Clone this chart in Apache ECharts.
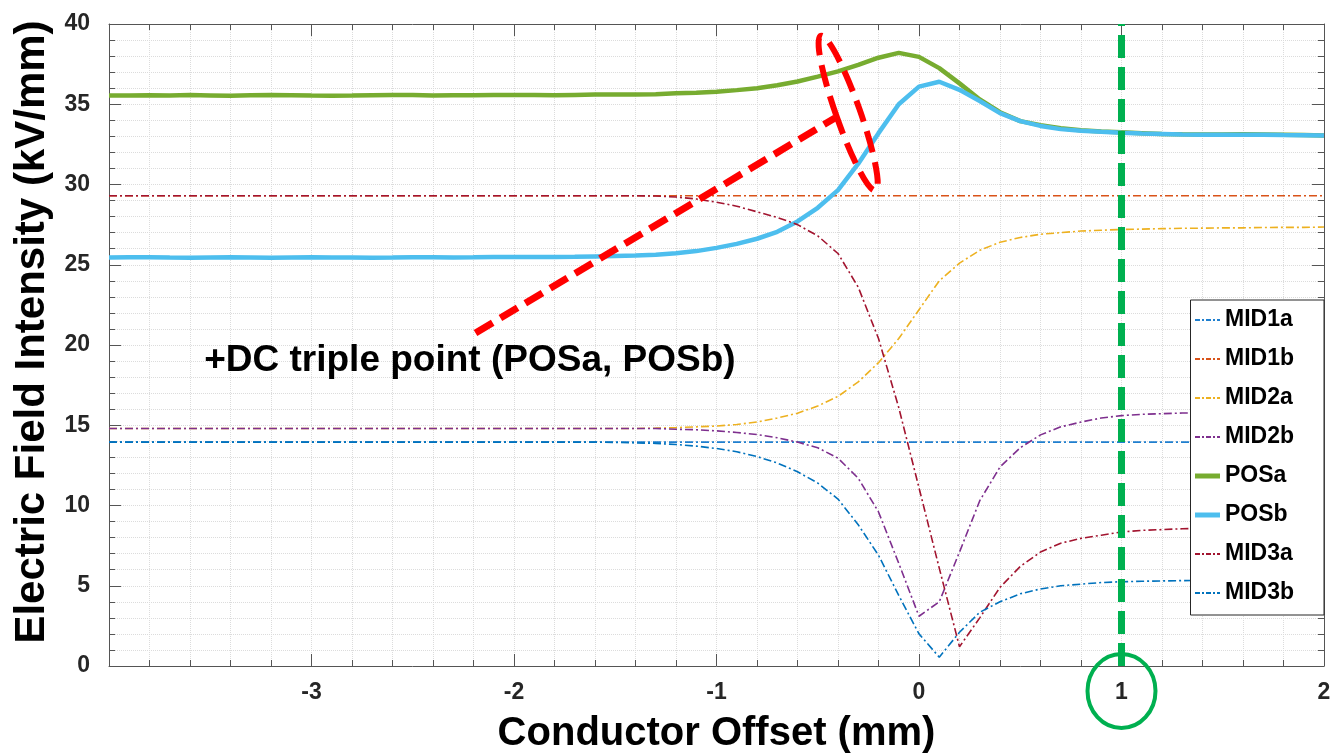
<!DOCTYPE html>
<html><head><meta charset="utf-8">
<script src="https://cdn.jsdelivr.net/npm/echarts@6/dist/echarts.min.js"></script>
<style>html,body{margin:0;padding:0;background:#fff}#c{width:1332px;height:755px}</style>
</head><body><div id="c"></div>
<script>
// ---- data ----
const offsets = [-4.0,-3.9,-3.8,-3.7,-3.6,-3.5,-3.4,-3.3,-3.2,-3.1,
  -3.0,-2.9,-2.8,-2.7,-2.6,-2.5,-2.4,-2.3,-2.2,-2.1,
  -2.0,-1.9,-1.8,-1.7,-1.6,-1.5,-1.4,-1.3,-1.2,-1.1,
  -1.0,-0.9,-0.8,-0.7,-0.6,-0.5,-0.4,-0.3,-0.2,-0.1,
  0.0,0.1,0.2,0.3,0.4,0.5,0.6,0.7,0.8,0.9,
  1.0,1.1,1.2,1.3,1.4,1.5,1.6,1.7,1.8,1.9,
  2.0];
const MID1a = [13.95,13.95,13.95,13.95,13.95,13.95,13.95,13.95,13.95,13.95,
  13.95,13.95,13.95,13.95,13.95,13.95,13.95,13.95,13.95,13.95,
  13.95,13.95,13.95,13.95,13.95,13.95,13.95,13.95,13.95,13.95,
  13.95,13.95,13.95,13.95,13.95,13.95,13.95,13.95,13.95,13.95,
  13.95,13.95,13.95,13.95,13.95,13.95,13.95,13.95,13.95,13.95,
  13.95,13.95,13.95,13.95,13.95,13.95,13.95,13.95,13.95,13.95,
  13.95];
const MID1b = [29.3,29.3,29.3,29.3,29.3,29.3,29.3,29.3,29.3,29.3,
  29.3,29.3,29.3,29.3,29.3,29.3,29.3,29.3,29.3,29.3,
  29.3,29.3,29.3,29.3,29.3,29.3,29.3,29.3,29.3,29.3,
  29.3,29.3,29.3,29.3,29.3,29.3,29.3,29.3,29.3,29.3,
  29.3,29.3,29.3,29.3,29.3,29.3,29.3,29.3,29.3,29.3,
  29.3,29.3,29.3,29.3,29.3,29.3,29.3,29.3,29.3,29.3,
  29.3];
const MID2a = [14.8,14.8,14.8,14.8,14.8,14.8,14.8,14.8,14.8,14.8,
  14.8,14.8,14.8,14.8,14.8,14.8,14.8,14.8,14.8,14.8,
  14.8,14.8,14.8,14.8,14.8,14.8,14.8,14.82,14.85,14.9,
  14.95,15.05,15.2,15.45,15.75,16.2,16.8,17.7,18.9,20.4,
  22.2,24.0,25.1,25.9,26.4,26.7,26.9,27.0,27.1,27.15,
  27.2,27.22,27.25,27.27,27.28,27.3,27.3,27.32,27.33,27.33,
  27.35];
const MID2b = [14.8,14.8,14.8,14.8,14.8,14.8,14.8,14.8,14.8,14.8,
  14.8,14.8,14.8,14.8,14.8,14.8,14.8,14.8,14.8,14.8,
  14.8,14.8,14.8,14.8,14.8,14.8,14.8,14.8,14.75,14.72,
  14.65,14.55,14.42,14.22,13.95,13.6,12.95,11.7,9.6,6.4,
  3.1,4.0,7.1,10.3,12.4,13.6,14.4,14.9,15.2,15.45,
  15.6,15.68,15.72,15.76,15.78,15.8,15.82,15.83,15.84,15.85,
  15.85];
const POSa = [35.55,35.55,35.56,35.55,35.57,35.55,35.53,35.56,35.57,35.56,
  35.54,35.53,35.54,35.56,35.57,35.57,35.54,35.56,35.56,35.57,
  35.58,35.57,35.56,35.58,35.6,35.6,35.61,35.62,35.68,35.72,
  35.78,35.88,36.0,36.18,36.42,36.72,37.05,37.45,37.9,38.2,
  37.95,37.25,36.3,35.3,34.5,33.95,33.7,33.5,33.38,33.3,
  33.25,33.2,33.15,33.13,33.12,33.12,33.13,33.12,33.1,33.08,
  33.05];
const POSb = [25.45,25.46,25.47,25.45,25.44,25.45,25.46,25.45,25.44,25.45,
  25.46,25.45,25.45,25.44,25.45,25.47,25.46,25.45,25.46,25.48,
  25.49,25.48,25.49,25.5,25.52,25.54,25.57,25.62,25.72,25.85,
  26.05,26.3,26.62,27.05,27.7,28.55,29.65,31.3,33.2,35.0,
  36.1,36.4,35.9,35.2,34.45,33.95,33.65,33.45,33.35,33.28,
  33.22,33.18,33.15,33.12,33.1,33.1,33.1,33.1,33.08,33.07,
  33.05];
const MID3a = [29.3,29.3,29.3,29.3,29.3,29.3,29.3,29.3,29.3,29.3,
  29.3,29.3,29.3,29.3,29.3,29.3,29.3,29.3,29.3,29.3,
  29.3,29.3,29.3,29.3,29.3,29.3,29.3,29.28,29.22,29.1,
  28.9,28.65,28.3,27.95,27.5,26.8,25.7,23.6,20.4,16.1,
  11.1,6.1,1.2,3.0,4.9,6.2,7.1,7.65,7.95,8.15,
  8.35,8.45,8.5,8.55,8.58,8.6,8.62,8.63,8.64,8.65,
  8.65];
const MID3b = [13.95,13.95,13.95,13.95,13.95,13.95,13.95,13.95,13.95,13.95,
  13.95,13.95,13.95,13.95,13.95,13.95,13.95,13.95,13.95,13.95,
  13.95,13.95,13.95,13.95,13.95,13.93,13.9,13.87,13.8,13.7,
  13.55,13.35,13.05,12.65,12.1,11.4,10.4,8.8,6.9,4.4,
  2.0,0.55,2.1,3.35,4.0,4.5,4.8,5.0,5.1,5.2,
  5.25,5.28,5.3,5.32,5.33,5.35,5.36,5.37,5.38,5.39,
  5.4];
const xTicks = [-4,-3,-2,-1,0,1,2];
const xTickLabels = ['','-3','-2','-1','0','1','2'];
const yTickLabels = ['0','5','10','15','20','25','30','35','40'];
const seriesNames = ['MID1a','MID1b','MID2a','MID2b','POSa','POSb','MID3a','MID3b'];
const markX = 1;
const noteText = '+DC triple point (POSa, POSb)';
const notePos = [-3.53, 19.0];
const arrowFrom = [-2.19, 20.75];
const arrowTo = [-0.415, 34.14];
const ellipseCenter = [-0.35, 34.45];
const circleCenter = [1, -1.56];

// ---- chart ----
const FONT = '"Liberation Sans", Arial, sans-serif';
const chart = echarts.init(document.getElementById('c'), null, {renderer:'canvas'});
const dashDot = [8,3,2,3];
function pts(arr){ return offsets.map((x,i)=>[x, arr[i]]); }
function mid(name, arr, color){
  return {name, type:'line', data:pts(arr), symbol:'none', showSymbol:false,
    lineStyle:{color, width:1.6, type:dashDot}, itemStyle:{color}, emphasis:{disabled:true}};
}
function solid(name, arr, color){
  return {name, type:'line', data:pts(arr), symbol:'none', showSymbol:false,
    lineStyle:{color, width:4.5}, itemStyle:{color}, emphasis:{disabled:true}};
}
const axisCol = '#555';
const gridLine = {show:true, lineStyle:{color:'#dcdcdc', type:'dotted', width:1}};
const series = [
  mid('MID1a', MID1a, '#1F7FCF'),
  mid('MID1b', MID1b, '#D95319'),
  mid('MID2a', MID2a, '#EDB120'),
  mid('MID2b', MID2b, '#7E2F8E'),
  solid('POSa', POSa, '#77AC30'),
  solid('POSb', POSb, '#4DBEEE'),
  mid('MID3a', MID3a, '#A2142F'),
  mid('MID3b', MID3b, '#0072BD')
];
series[7].markLine = {silent:true, symbol:['none','none'], label:{show:false},
  lineStyle:{color:'#00B050', width:7, type:[23,9]}, data:[{xAxis:markX}]};

const legendData = seriesNames.map(n => (n === 'POSa' || n === 'POSb')
  ? {name:n, lineStyle:{width:5, type:'solid'}}
  : {name:n, lineStyle:{width:1.8, type:[5,2,2,2]}});

chart.setOption({
  animation:false,
  backgroundColor:'#fff',
  grid:{left:109, right:8, top:24, bottom:89, containLabel:false, outerBoundsMode:'none'},
  legend:{data:legendData, orient:'vertical', right:8, top:300,
    itemWidth:25, itemHeight:14, itemGap:15, itemTextGap:3,
    itemStyle:{opacity:0},
    padding:[8,30,10,2], borderColor:'#262626', borderWidth:1, backgroundColor:'#fff',
    textStyle:{fontFamily:FONT, fontSize:23, fontWeight:'bold', color:'#000', lineHeight:24},
    selectedMode:false},
  xAxis:[{type:'value', min:-4, max:2, interval:1, position:'bottom',
    axisLine:{show:true, onZero:false, lineStyle:{color:axisCol}},
    axisTick:{show:true, inside:true, length:12, lineStyle:{color:axisCol}},
    minorTick:{show:true, splitNumber:5, length:6, lineStyle:{color:axisCol}},
    axisLabel:{margin:15, fontFamily:FONT, fontSize:23, fontWeight:'bold', color:'#262626',
      formatter:v=>{const i=xTicks.indexOf(Math.round(v)); return i<0?'':xTickLabels[i];}},
    splitLine:gridLine, minorSplitLine:gridLine,
    name:'Conductor Offset (mm)', nameLocation:'middle', nameGap:48,
    nameTextStyle:{fontFamily:FONT, fontSize:40, fontWeight:'bold', color:'#000'}},
   {type:'value', min:-4, max:2, interval:1, position:'top',
    axisLine:{show:true, onZero:false, lineStyle:{color:axisCol}},
    axisTick:{show:true, inside:true, length:12, lineStyle:{color:axisCol}},
    minorTick:{show:true, splitNumber:5, length:6, lineStyle:{color:axisCol}},
    axisLabel:{show:false}, splitLine:{show:false}}],
  yAxis:[{type:'value', min:0, max:40, interval:5, position:'left',
    axisLine:{show:true, onZero:false, lineStyle:{color:axisCol}},
    axisTick:{show:true, inside:true, length:12, lineStyle:{color:axisCol}},
    minorTick:{show:true, splitNumber:5, length:6, lineStyle:{color:axisCol}},
    axisLabel:{margin:19, fontFamily:FONT, fontSize:23, fontWeight:'bold', color:'#262626',
      formatter:v=>yTickLabels[Math.round(v/5)]},
    splitLine:gridLine, minorSplitLine:gridLine,
    name:'Electric Field Intensity (kV/mm)', nameLocation:'middle', nameGap:50,
    nameTextStyle:{fontFamily:FONT, fontSize:42, fontWeight:'bold', color:'#000', padding:[0,0,0,26]}},
   {type:'value', min:0, max:40, interval:5, position:'right',
    axisLine:{show:true, onZero:false, lineStyle:{color:axisCol}},
    axisTick:{show:true, inside:true, length:12, lineStyle:{color:axisCol}},
    minorTick:{show:true, splitNumber:5, length:6, lineStyle:{color:axisCol}},
    axisLabel:{show:false}, splitLine:{show:false}}],
  series
});

function px(p){ return chart.convertToPixel({xAxisIndex:0, yAxisIndex:0}, p); }
const a0 = px(arrowFrom), a1 = px(arrowTo), ec = px(ellipseCenter), cc = px(circleCenter), tp = px(notePos);
chart.setOption({graphic:[
  {type:'line', z:100, shape:{x1:a0[0], y1:a0[1], x2:a1[0], y2:a1[1]},
    style:{stroke:'#FF0000', lineWidth:7, lineDash:[20,9]}},
  {type:'ellipse', z:100, x:ec[0], y:ec[1], rotation:0.34, shape:{cx:0, cy:0, rx:12, ry:82},
    style:{fill:null, stroke:'#FF0000', lineWidth:6, lineDash:[22,10]}},
  {type:'ellipse', z:100, x:cc[0], y:cc[1], shape:{cx:0, cy:0, rx:34, ry:37},
    style:{fill:null, stroke:'#00B050', lineWidth:4}},
  {type:'text', z:100, x:tp[0], y:tp[1],
    style:{text:noteText, fontFamily:FONT, fontSize:37, fontWeight:'bold', fill:'#000', verticalAlign:'middle', align:'left'}}
]});
</script></body></html>
